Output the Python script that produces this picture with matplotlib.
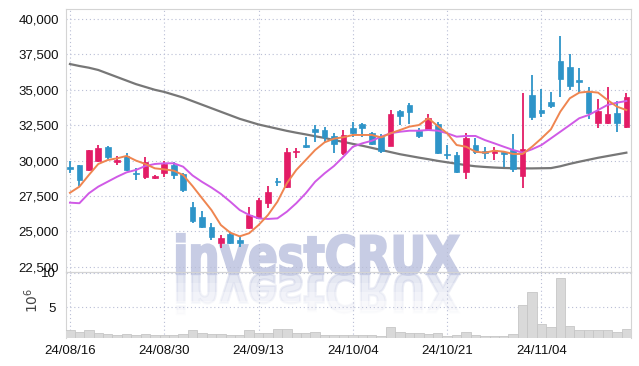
import matplotlib
matplotlib.use("Agg")
import matplotlib.pyplot as plt
import numpy as np
from matplotlib.textpath import TextPath
from matplotlib.patches import PathPatch, Rectangle
from matplotlib.transforms import Affine2D, IdentityTransform
from matplotlib.font_manager import FontProperties

plt.rcParams["font.family"] = ["Liberation Sans", "DejaVu Sans"]

# --- data ----------------------------------------------------------------
tick_labels = ["24/08/16", "24/08/30", "24/09/13", "24/10/04", "24/10/21", "24/11/04"]
tick_pos = [0, 10, 20, 30, 40, 50]

opens = [29570, 29690, 29340, 29990, 30980, 29900, 30300, 29150, 28860, 28800,
         29150, 29710, 29050, 26750, 26000, 25330, 24160, 24800, 24390, 25220,
         25940, 26990, 28530, 28120, 30620, 31100, 32230, 32160, 31740, 30540,
         32280, 32590, 31930, 31690, 31030, 33500, 33920, 32110, 32210, 32590,
         30470, 30400, 29220, 31100, 30680, 30560, 30610, 30750, 28930, 34630,
         33570, 34160, 37030, 36630, 35690, 34870, 32630, 32680, 33340, 32390]
highs = [29990, 29720, 30760, 31100, 31030, 30330, 30560, 29480, 30230, 29000,
         29990, 29900, 29100, 27080, 26470, 25570, 24750, 24900, 24630, 26700,
         27340, 28200, 28750, 30870, 30910, 31690, 32510, 32400, 31930, 32180,
         32750, 32630, 32040, 31880, 33570, 33570, 34050, 32280, 33290, 32750,
         31100, 30630, 31930, 31570, 30980, 30980, 30610, 31880, 34750, 36040,
         35040, 34870, 38800, 37530, 36520, 35220, 34330, 35220, 34210, 34750]
lows = [29100, 28200, 29300, 29900, 30100, 29690, 29300, 28630, 28680, 28680,
        28860, 28700, 27800, 25570, 25240, 24400, 23800, 24100, 23920, 25200,
        25900, 26630, 28200, 28100, 30200, 30900, 31330, 31330, 30520, 30400,
        31690, 31650, 31100, 30560, 31000, 32510, 32580, 31570, 32150, 30500,
        30090, 29100, 28680, 30500, 30090, 30040, 29570, 29220, 28040, 32900,
        33060, 33690, 34470, 34990, 34870, 32920, 32280, 32600, 32040, 32300]
closes = [29430, 28630, 30750, 30870, 30280, 30040, 29330, 29050, 29880, 28900,
          29760, 29000, 27930, 25740, 25330, 24630, 24560, 24160, 24160, 26140,
          27220, 27760, 28500, 30630, 30690, 30940, 32040, 31690, 31170, 31810,
          31930, 32280, 31150, 30700, 33290, 33150, 33450, 31740, 32990, 30560,
          30380, 29220, 31570, 30630, 30520, 30750, 30470, 29390, 30820, 33060,
          33380, 33860, 35760, 35270, 35550, 33380, 33500, 33270, 32680, 34470]

ma_short = [27730, 28160, 28980, 29760, 30040, 30160, 30330, 30000, 29760, 29455,
            29380, 29290, 28980, 28200, 27350, 26510, 25450, 24910, 24650, 24870,
            25450, 26160, 27100, 28400, 29340, 30040, 30750, 31290, 31550, 31650,
            31810, 31810, 31810, 31640, 31930, 32160, 32400, 32510, 32990, 32440,
            31930, 31100, 30980, 30630, 30560, 30700, 30630, 30470, 30470, 30980,
            31570, 32210, 33460, 34400, 34800, 34870, 34800, 34280, 33810, 33570]
ma_mid = [27030, 26990, 27690, 28160, 28510, 28860, 29170, 29340, 29620, 29760,
          29810, 29810, 29570, 28950, 28500, 28100, 27650, 27100, 26510, 26160,
          25920, 25880, 25920, 26390, 26990, 27690, 28510, 29100, 29620, 30280,
          30980, 31220, 31400, 31690, 31930, 32040, 32110, 32110, 32160, 32110,
          31930, 31690, 31740, 31740, 31450, 31220, 30980, 30750, 30560, 30800,
          31100, 31570, 32040, 32510, 32990, 33220, 33570, 33930, 34090, 34210]
ma_long = [36820, 36680, 36560, 36400, 36150, 35900, 35650, 35400, 35200, 35000,
           34850, 34650, 34450, 34200, 33950, 33700, 33450, 33200, 32950, 32750,
           32550, 32400, 32250, 32100, 31970, 31850, 31720, 31600, 31450, 31320,
           31180, 31050, 30900, 30750, 30600, 30450, 30330, 30210, 30100, 29980,
           29880, 29780, 29680, 29600, 29550, 29510, 29480, 29460, 29450, 29450,
           29460, 29470, 29600, 29770, 29920, 30060, 30200, 30320, 30440, 30560]

volume = [1.77, 1.53, 1.68, 1.39, 1.2, 0.96, 1.15, 1.0, 1.15, 1.0,
          0.96, 1.0, 1.2, 1.72, 1.39, 1.2, 1.2, 1.0, 1.0, 1.72,
          1.39, 1.39, 1.87, 1.87, 1.39, 1.39, 1.45, 1.0, 1.0, 0.96,
          1.0, 1.0, 1.0, 0.9, 2.25, 1.49, 1.3, 1.3, 1.15, 1.35,
          0.9, 1.0, 1.49, 1.05, 0.86, 0.86, 0.86, 1.15, 5.38, 7.26,
          2.64, 2.16, 9.23, 2.35, 1.77, 1.77, 1.77, 1.77, 1.49, 1.92]

UP = "#e31c66"
DOWN = "#2e94c8"
GRID = "#b9bed5"
SPINE = "#d4d4d4"
WM = "#c7cce4"

W, H = 639, 366
fig = plt.figure(figsize=(W / 100, H / 100), dpi=100)
fig.patch.set_facecolor("white")

ax = fig.add_axes([66 / W, (H - 272) / H, 564.7 / W, 263 / H], facecolor="none")
axv = fig.add_axes([66 / W, (H - 338) / H, 564.7 / W, 66 / H], facecolor="none", sharex=ax)

x = np.arange(len(closes))
o = np.array(opens)
c = np.array(closes)
colors = [UP if cc > oo else DOWN for oo, cc in zip(o, c)]

# candles
ax.vlines(x, lows, highs, colors=colors, lw=1.3, zorder=3)
body_low = np.minimum(o, c)
body_h = np.maximum(np.abs(c - o), 70)
ax.bar(x, body_h, bottom=body_low, width=0.6, color=colors, edgecolor=colors,
       lw=0.5, zorder=4)

# moving averages
ax.plot(x, ma_long, color="#777777", lw=1.6, zorder=2)
ax.plot(x, ma_mid, color="#d05ae6", lw=1.4, zorder=5)
ax.plot(x, ma_short, color="#ef8550", lw=1.4, zorder=5)

ax.set_xlim(-0.42, 59.46)
ax.set_ylim(22133, 40706)
yt = np.arange(22500, 40001, 2500)
ax.set_yticks(yt)
ax.set_yticklabels([f"{v:,}" for v in yt])
ax.set_xticks(tick_pos)
ax.tick_params(axis="x", labelbottom=False, length=0)
ax.tick_params(axis="y", length=0, pad=5, labelsize=9.5, labelcolor="#111111")
ax.grid(True, color=GRID, lw=0.8, ls=(0, (1, 2.5)))
for s in ax.spines.values():
    s.set_color(SPINE)

# volume
axv.bar(x, volume, width=1.0, color="#d9d9d9", edgecolor="#c6c6c6", lw=0.6, zorder=3)
axv.set_ylim(0.6, 10.1)
axv.set_yticks([5, 10])
axv.set_yticklabels(["5", "10"])
axv.set_xticks(tick_pos)
axv.set_xticklabels(tick_labels)
axv.tick_params(axis="both", length=0, labelsize=9.5, labelcolor="#111111")
axv.tick_params(axis="y", pad=7)
axv.tick_params(axis="x", pad=5)
axv.grid(True, color=GRID, lw=0.8, ls=(0, (1, 2.5)))
for s in axv.spines.values():
    s.set_color(SPINE)
axv.spines["bottom"].set_visible(False)
fig.text(32 / W, 1 - 300 / H, r"$10^6$", rotation=90, ha="center", va="center",
         fontsize=10, color="#444444")

# watermark + faded reflection
tp = TextPath((0, 0), "investCRUX", size=100,
              prop=FontProperties(family="DejaVu Sans", weight="bold"))
ext = tp.get_extents()
sx = (459 - 177) / ext.width
sy = (274 - 234) / ext.y1
base = H - 274
main_tr = Affine2D().translate(-ext.x0, 0).scale(sx, sy).translate(177, base)
fig.add_artist(PathPatch(main_tr.transform_path(tp), transform=IdentityTransform(),
                         facecolor=WM, edgecolor=WM, lw=1.6, zorder=-1))
refl = Affine2D().translate(-ext.x0, 0).scale(sx, -sy).translate(177, base).transform_path(tp)
for k, a in enumerate([0.45, 0.33, 0.22, 0.12, 0.05]):
    band = Rectangle((0, base - 9 * (k + 1)), W, 9, transform=IdentityTransform())
    p = PathPatch(refl, transform=IdentityTransform(), facecolor=WM,
                  edgecolor=WM, lw=1.6, alpha=a, zorder=-1)
    p.set_clip_path(band)
    fig.add_artist(p)

fig.savefig("out.png", dpi=100)
